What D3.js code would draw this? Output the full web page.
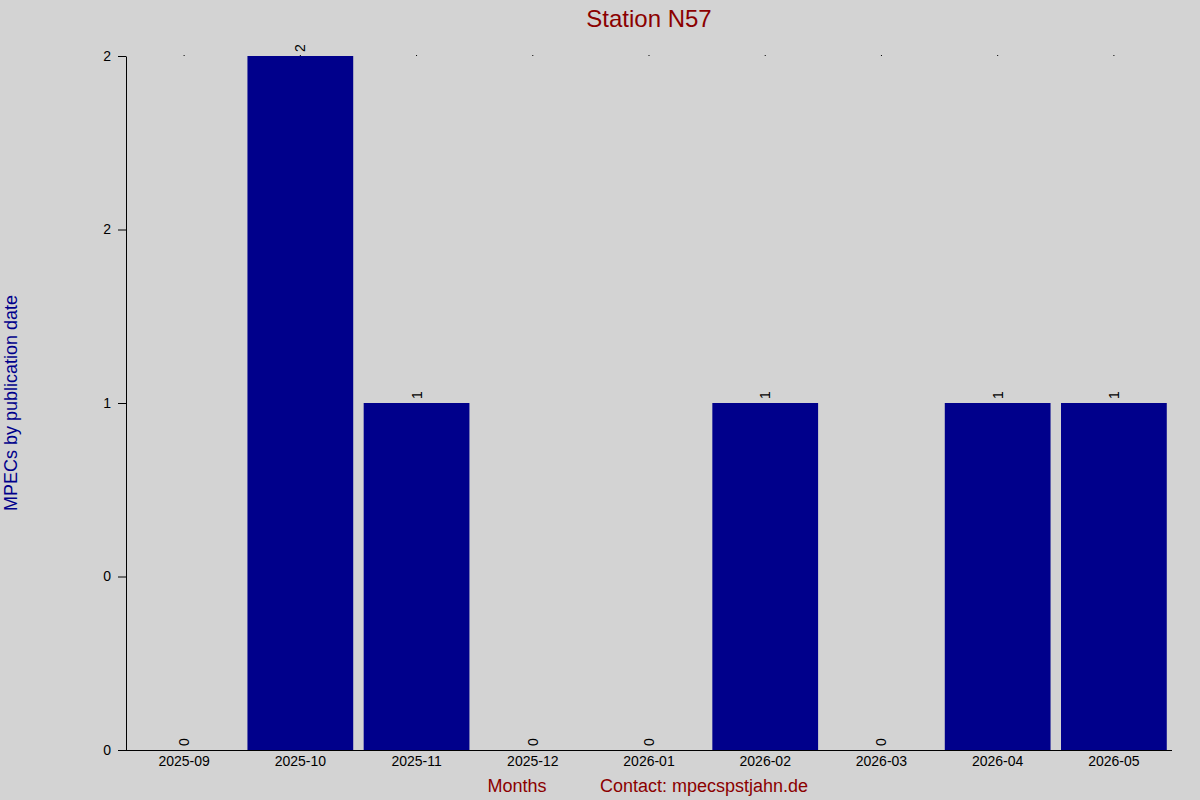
<!DOCTYPE html>
<html><head><meta charset="utf-8">
<script src="https://cdn.jsdelivr.net/npm/d3@7"></script>
<style>body{margin:0;background:#d3d3d3}</style></head>
<body><svg id="c" width="1200" height="800"></svg>
<script>
const months = ["2025-09","2025-10","2025-11","2025-12","2026-01","2026-02","2026-03","2026-04","2026-05"];
const counts = [0,2,1,0,0,1,0,1,1];
const yTickValues = [0,0.5,1,1.5,2];
const yTickLabels = ["0","0","1","2","2"];

const svg = d3.select("#c");
const F = "Liberation Sans, Arial, sans-serif";
svg.append("rect").attr("width",1200).attr("height",800).attr("fill","#d3d3d3");
const L=126,R=1172,T=56,B=750;
const x = d3.scaleBand().domain(months).range([L,R]).paddingInner(0.09).paddingOuter(0.045);
const y = d3.scaleLinear().domain([0,2]).range([B,T]);

svg.selectAll("rect.bar").data(counts).join("rect").attr("class","bar")
 .attr("x",(d,i)=>x(months[i])).attr("width",x.bandwidth())
 .attr("y",d=>y(d)).attr("height",d=>B-y(d)).attr("fill","#00008b");

svg.selectAll("circle.dot").data(months).join("rect").attr("class","dot")
 .attr("x",d=>x(d)+x.bandwidth()/2-0.5).attr("y",T-1).attr("width",1).attr("height",1).attr("fill","#000");

const ya = svg.append("g").attr("transform",`translate(${L},0)`)
 .call(d3.axisLeft(y).tickValues(yTickValues).tickFormat((d,i)=>yTickLabels[i]).tickSize(8).tickSizeOuter(0));
ya.select(".domain").attr("stroke","#000");
ya.selectAll("text").attr("font-family",F).attr("font-size",14).attr("fill","#000").attr("dx",-4);

const xa = svg.append("g").attr("transform",`translate(0,${B})`)
 .call(d3.axisBottom(x).tickSize(0).tickSizeOuter(0));
xa.select(".domain").attr("d",`M${L},0.5H${R}`).attr("stroke","#000");
xa.selectAll("text").attr("font-family",F).attr("font-size",14).attr("fill","#000").attr("dy","0.9em");

svg.selectAll("text.val").data(counts).join("text").attr("class","val")
 .attr("transform",(d,i)=>`translate(${x(months[i])+x.bandwidth()/2+5},${y(d)-4}) rotate(-90)`)
 .attr("font-family",F).attr("font-size",14).attr("fill","#000").text(d=>d);

svg.append("text").attr("x",649).attr("y",27).attr("text-anchor","middle").attr("font-family",F)
 .attr("font-size",24).attr("fill","#8b0000").text("Station N57");
svg.append("text").attr("x",517).attr("y",792).attr("text-anchor","middle").attr("font-family",F)
 .attr("font-size",18).attr("fill","#8b0000").text("Months");
svg.append("text").attr("x",704).attr("y",792).attr("text-anchor","middle").attr("font-family",F)
 .attr("font-size",18).attr("fill","#8b0000").text("Contact: mpecspstjahn.de");
svg.append("text").attr("transform","translate(17,403) rotate(-90)").attr("text-anchor","middle").attr("font-family",F)
 .attr("font-size",18).attr("fill","#00008b").text("MPECs by publication date");
</script></body></html>
